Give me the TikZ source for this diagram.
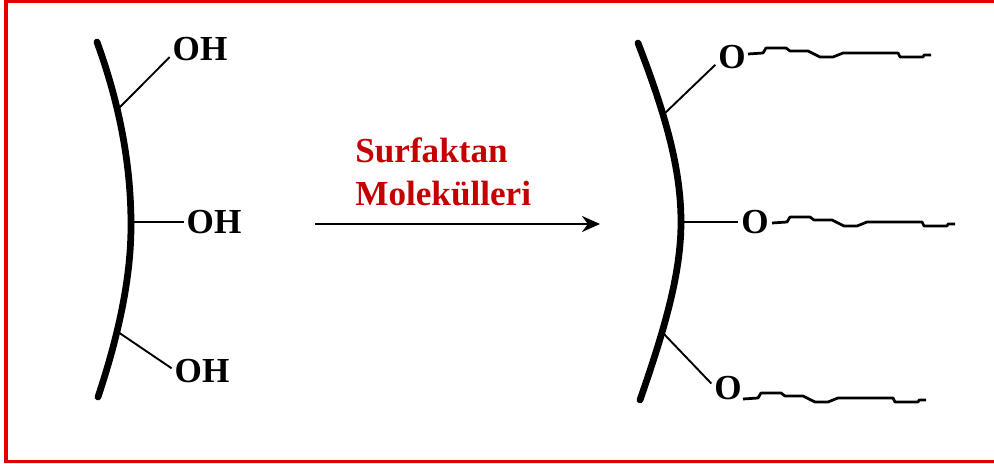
\documentclass[tikz,border=0pt]{standalone}
\usepackage{fontspec}
\setmainfont{Liberation Serif}
\usetikzlibrary{arrows.meta}
\definecolor{framered}{RGB}{226,0,0}
\definecolor{labelred}{RGB}{196,0,0}
\tikzset{
  frameline/.style={draw=framered, line width=0.07cm, line cap=butt},
  wall/.style={line width=0.135cm, draw=black, line cap=round, line join=round},
  bond/.style={line width=0.038cm, draw=black},
  chem/.style={font=\bfseries\fontsize{20}{20}\selectfont, inner sep=1.5pt},
  redlabel/.style={font=\bfseries\fontsize{20}{20}\selectfont, text=labelred, anchor=base west, inner sep=0pt},
  flow/.style={line width=0.05cm, draw=black, -{Stealth[length=0.36cm, width=0.32cm]}},
  tail/.pic={
    \draw[line width=0.055cm, black, line join=round, x=0.02cm, y=0.02cm] (0,0) -- (15,1) -- (18,6) -- (38,6) -- (42,3) -- (60,3) -- (72,-3) -- (85,-3) -- (95,1) -- (150,1) -- (152,-3) -- (175,-3) -- (176,-1) -- (183,-1);
  },
}
\begin{document}
\begin{tikzpicture}
\useasboundingbox (0,0) rectangle (19.88,9.26);
\draw[frameline] (19.88,0.03) -- (0.12,0.03) -- (0.12,9.23) -- (19.88,9.23);
\draw[wall] (1.94,8.42) .. controls (2.42,7.10) and (2.62,5.90) .. (2.62,4.76) .. controls (2.62,3.80) and (2.42,2.70) .. (1.96,1.32);
\draw[wall] (12.76,8.40) .. controls (13.30,7.00) and (13.62,5.90) .. (13.62,4.82) .. controls (13.62,3.80) and (13.30,2.70) .. (12.80,1.26);
\coordinate (leftA) at (2.38,7.10);
\coordinate (leftB) at (2.64,4.82);
\coordinate (leftC) at (2.36,2.62);
\coordinate (rightA) at (13.26,6.96);
\coordinate (rightB) at (13.64,4.82);
\coordinate (rightC) at (13.26,2.60);
\node[chem] (ohA) at (4.00,8.28) {OH};
\node[chem] (ohB) at (4.28,4.82) {OH};
\node[chem] (ohC) at (4.04,1.84) {OH};
\node[chem] (oxA) at (14.64,8.12) {O};
\node[chem] (oxB) at (15.10,4.82) {O};
\node[chem] (oxC) at (14.56,1.50) {O};
\draw[bond] (leftA) -- (ohA.195);
\draw[bond] (leftB) -- (ohB.west);
\draw[bond] (leftC) -- (ohC.175);
\draw[bond] (rightA) -- (oxA.205);
\draw[bond] (rightB) -- (oxB.west);
\draw[bond] (rightC) -- (oxC.165);
\pic at (14.96,8.18) {tail};
\pic at (15.44,4.80) {tail};
\pic at (14.86,1.28) {tail};
\node[redlabel] (surf) at (7.10,6.00) {Surfaktan};
\node[redlabel] (mole) at (7.10,5.14) {Molekülleri};
\coordinate (flowstart) at (6.30,4.78);
\coordinate (flowend) at (12.00,4.78);
\draw[flow] (flowstart) -- (flowend);
\end{tikzpicture}
\end{document}
